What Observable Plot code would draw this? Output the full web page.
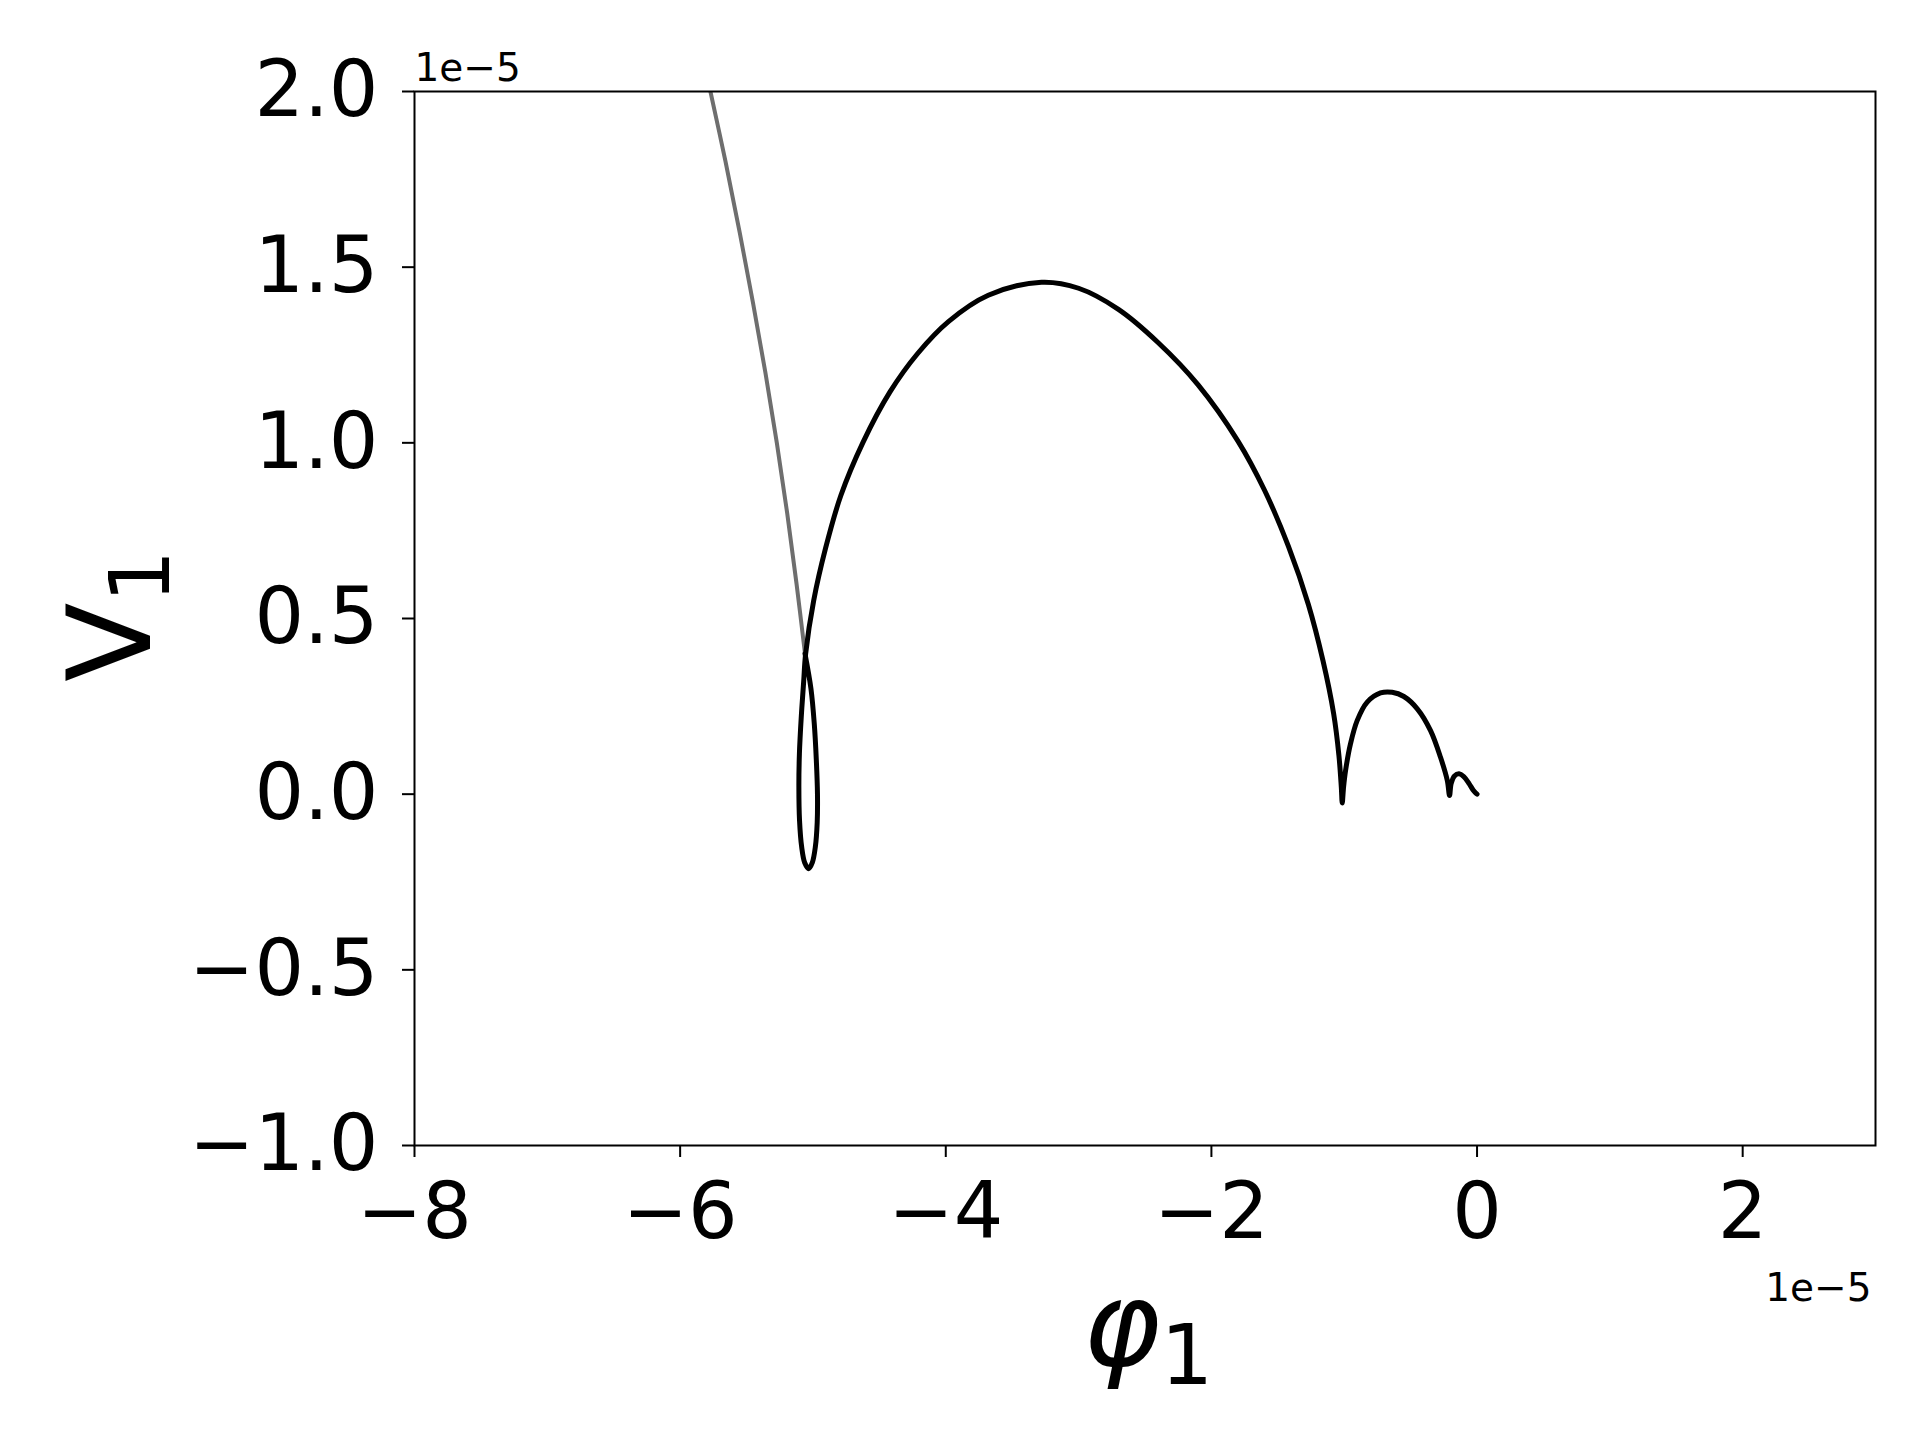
<!DOCTYPE html>
<html><head><meta charset="utf-8">
<script src="https://cdn.jsdelivr.net/npm/d3@7"></script>
<script src="https://cdn.jsdelivr.net/npm/@observablehq/plot@0.6"></script>
<style>body{margin:0;background:#fff;} svg{display:block;font-family:"DejaVu Sans";}</style>
</head><body><div id="chart"></div>
<script>
// values in units of 1e-5
const trailX = [-5.772, -5.658, -5.552, -5.452, -5.358, -5.272, -5.194, -5.124, -5.060];
const trailY = [2.000, 1.800, 1.600, 1.400, 1.200, 1.000, 0.800, 0.600, 0.400];

const curveX = [-5.060, -5.015, -4.990, -4.975, -4.966, -4.968, -4.982, -5.005, -5.032, -5.062, -5.085, -5.101, -5.106, -5.102, -5.088, -5.070, -5.055,
  -4.995, -4.905, -4.790, -4.625, -4.420, -4.210, -3.980, -3.680, -3.279,
  -3.000, -2.700, -2.400, -2.100, -1.800, -1.600, -1.420, -1.270, -1.160, -1.080, -1.040, -1.022, -1.015,
  -1.005, -0.990, -0.953, -0.902, -0.827, -0.727, -0.639, -0.551, -0.450, -0.350, -0.275, -0.224, -0.207,
  -0.195, -0.170, -0.135, -0.100, -0.060, -0.030, -0.012, 0.000];
const curveY = [0.400, 0.300, 0.200, 0.100, 0.000, -0.080, -0.150, -0.195, -0.212, -0.195, -0.150, -0.075, 0.020, 0.115, 0.220, 0.320, 0.400,
  0.550, 0.700, 0.850, 1.000, 1.145, 1.255, 1.345, 1.420, 1.457,
  1.440, 1.380, 1.285, 1.165, 1.005, 0.865, 0.705, 0.540, 0.380, 0.230, 0.110, 0.020, -0.025,
  0.020, 0.067, 0.143, 0.210, 0.262, 0.288, 0.290, 0.278, 0.243, 0.181, 0.105, 0.039, -0.004,
  0.030, 0.052, 0.058, 0.050, 0.030, 0.012, 0.004, 0.000];

const xTicks = [-8, -6, -4, -2, 0, 2];
const yTicks = [-1.0, -0.5, 0.0, 0.5, 1.0, 1.5, 2.0];
const offsetLabel = "1e\u22125";
const xLabelMain = "\u03c6", xLabelSub = "1";
const yLabelMain = "V", yLabelSub = "1";

const trail = trailX.map((x, i) => ({x, y: trailY[i]}));
const curve = curveX.map((x, i) => ({x, y: curveY[i]}));

const chart = Plot.plot({
  width: 1920, height: 1440,
  marginLeft: 414, marginRight: 45, marginTop: 91, marginBottom: 295,
  style: {fontFamily: "DejaVu Sans", background: "#fff", color: "#000"},
  x: {domain: [-8, 3]},
  y: {domain: [-1, 2]},
  marks: [
    Plot.line(trail, {x: "x", y: "y", stroke: "#6e6e6e", strokeWidth: 4, curve: "catmull-rom", clip: true}),
    Plot.line(curve, {x: "x", y: "y", stroke: "#000", strokeWidth: 5, curve: "catmull-rom", strokeLinecap: "round", strokeLinejoin: "round", clip: true}),
    Plot.frame({stroke: "#000", strokeWidth: 2}),
    Plot.axisX({ticks: xTicks, tickFormat: d3.format("d"), fontSize: 78, tickSize: 12, tickPadding: 25, strokeWidth: 2, label: null}),
    Plot.axisY({ticks: yTicks, tickFormat: d3.format(".1f"), fontSize: 78, tickSize: 12, tickPadding: 24, strokeWidth: 2, label: null}),
    Plot.text([offsetLabel], {frameAnchor: "top-left", text: d => d, dx: 0, dy: -11, lineAnchor: "bottom", textAnchor: "start", fontSize: 39}),
    Plot.text([offsetLabel], {frameAnchor: "bottom-right", text: d => d, dx: -4, dy: 155, lineAnchor: "bottom", textAnchor: "end", fontSize: 39})
  ]
});

const svg = d3.select(chart);
const xl = svg.append("text").attr("x", 1148).attr("y", 1365).attr("text-anchor", "middle")
  .attr("font-family", "DejaVu Sans").attr("fill", "#000");
xl.append("tspan").attr("font-size", 118).attr("font-style", "italic").text(xLabelMain);
xl.append("tspan").attr("font-size", 83).attr("dy", 19).text(xLabelSub);

const yl = svg.append("text").attr("transform", "translate(150,616) rotate(-90)").attr("text-anchor", "middle")
  .attr("font-family", "DejaVu Sans").attr("fill", "#000");
yl.append("tspan").attr("font-size", 116).text(yLabelMain);
yl.append("tspan").attr("font-size", 83).attr("dy", 19).text(yLabelSub);

document.getElementById("chart").appendChild(chart);
</script>
</body></html>
